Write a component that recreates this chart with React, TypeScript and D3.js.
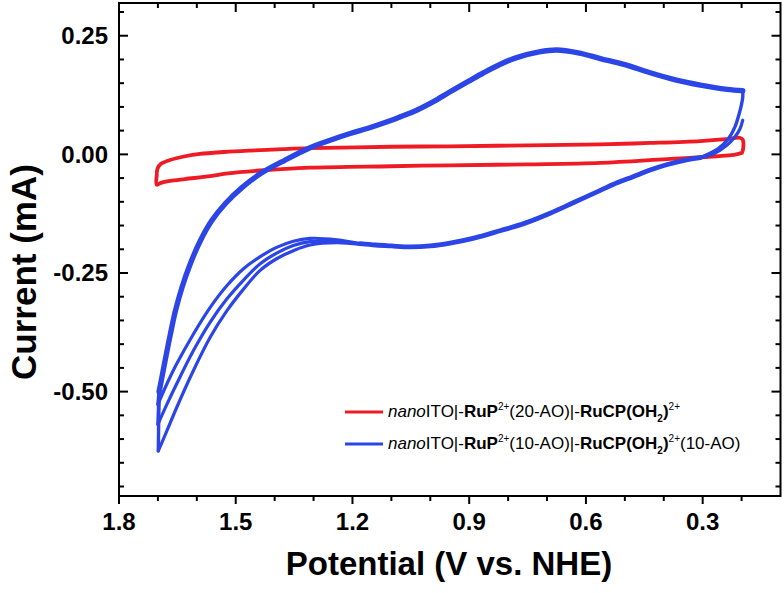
import React from "react";
import * as d3 from "d3";

type Pt = [number, number];

// ---- data (V vs NHE, mA) ----
const redUpper: Pt[] = [
  [1.703, -0.045], [1.701, -0.030], [1.692, -0.020], [1.669, -0.012], [1.63, -0.004],
  [1.592, 0.001], [1.53, 0.005], [1.463, 0.008], [1.38, 0.011], [1.309, 0.013],
  [1.1, 0.016], [0.949, 0.017], [0.75, 0.019], [0.563, 0.021], [0.435, 0.024],
  [0.306, 0.028], [0.24, 0.032], [0.205, 0.035], [0.197, 0.031], [0.196, 0.012], [0.199, 0.003],
];
const redLower: Pt[] = [
  [0.199, 0.003], [0.22, -0.001], [0.263, -0.004], [0.392, -0.010], [0.563, -0.018],
  [0.75, -0.021], [0.949, -0.023], [1.1, -0.025], [1.309, -0.028], [1.438, -0.034],
  [1.52, -0.040], [1.566, -0.046], [1.63, -0.052], [1.669, -0.056], [1.692, -0.060],
  [1.703, -0.064], [1.703, -0.045],
];

const blueStartTail: Pt[] = [
  [0.197, 0.072], [0.204, 0.054], [0.217, 0.037], [0.238, 0.019], [0.272, 0.001], [0.306, -0.007],
];
const blueTurn: Pt[] = [
  [0.197, 0.134], [0.197, 0.12], [0.2, 0.106], [0.206, 0.086], [0.217, 0.058],
  [0.234, 0.033], [0.26, 0.012], [0.306, -0.007],
];
const blueLowerCommon: Pt[] = [
  [0.306, -0.007], [0.35, -0.013], [0.393, -0.022], [0.435, -0.033], [0.479, -0.047],
  [0.52, -0.060], [0.563, -0.076], [0.63, -0.101], [0.692, -0.124], [0.76, -0.146],
  [0.821, -0.161], [0.885, -0.176], [0.949, -0.187], [1.0, -0.193], [1.052, -0.195],
  [1.1, -0.193], [1.14, -0.191], [1.18, -0.188],
];
const blueCycle1: Pt[] = [
  [1.18, -0.188], [1.24, -0.180], [1.309, -0.177], [1.352, -0.183], [1.395, -0.196],
  [1.438, -0.216], [1.48, -0.241], [1.523, -0.277], [1.566, -0.323], [1.609, -0.379],
  [1.652, -0.442], [1.677, -0.484], [1.7, -0.527],
];
const blueCycle2: Pt[] = [
  [1.18, -0.189], [1.24, -0.183], [1.309, -0.184], [1.352, -0.192], [1.395, -0.208],
  [1.438, -0.231], [1.48, -0.265], [1.523, -0.305], [1.566, -0.354], [1.609, -0.414],
  [1.652, -0.484], [1.677, -0.527], [1.7, -0.569],
];
const blueCycle3: Pt[] = [
  [1.18, -0.190], [1.24, -0.186], [1.309, -0.191], [1.352, -0.203], [1.395, -0.220],
  [1.438, -0.245], [1.48, -0.284], [1.523, -0.330], [1.566, -0.386], [1.609, -0.456],
  [1.652, -0.534], [1.677, -0.583], [1.699, -0.625],
];
const blueUpper: Pt[] = [
  [1.697, -0.50], [1.69, -0.471], [1.68, -0.428], [1.668, -0.379], [1.655, -0.330],
  [1.638, -0.280], [1.617, -0.231], [1.591, -0.182], [1.561, -0.139], [1.527, -0.104],
  [1.484, -0.070], [1.435, -0.040], [1.373, -0.012], [1.309, 0.014], [1.25, 0.032],
  [1.206, 0.044], [1.16, 0.055], [1.12, 0.066], [1.078, 0.079], [1.035, 0.093],
  [0.992, 0.111], [0.949, 0.132], [0.9, 0.155], [0.863, 0.172], [0.82, 0.190],
  [0.778, 0.204], [0.72, 0.216], [0.675, 0.220], [0.62, 0.214], [0.563, 0.202],
  [0.5, 0.189], [0.435, 0.172], [0.37, 0.157], [0.306, 0.146], [0.237, 0.137], [0.197, 0.134],
];

const xMajorTicks = [1.8, 1.5, 1.2, 0.9, 0.6, 0.3];
const xMinorTicks = [1.7, 1.6, 1.4, 1.3, 1.1, 1.0, 0.8, 0.7, 0.5, 0.4, 0.2];
const yMajorTicks = [0.25, 0, -0.25, -0.5];
const yMinorTicks = [0.3, 0.2, 0.15, 0.1, 0.05, -0.05, -0.1, -0.15, -0.2, -0.3, -0.35, -0.4, -0.45, -0.55, -0.6, -0.65, -0.7];

const RED = "#ee1b24";
const BLUE = "#2b45e6";
const FONT = "'Liberation Sans', Arial, Helvetica, sans-serif";

export default function App() {
  const W = 784, H = 593;
  const L = 119, R = 780.5, T = 3, B = 496;
  const x = d3.scaleLinear().domain([1.8, 0.1]).range([L, R]);
  const y = d3.scaleLinear().domain([0.319, -0.72]).range([T, B]);
  const line = d3
    .line<Pt>()
    .x((d) => x(d[0]))
    .y((d) => y(d[1]))
    .curve(d3.curveCatmullRom.alpha(0.5));
  const straight = d3.line<Pt>().x((d) => x(d[0])).y((d) => y(d[1]));

  const cycles = [blueCycle1, blueCycle2, blueCycle3];

  return (
    <svg width={W} height={H} style={{ position: "absolute", left: 0, top: 0, background: "#fff" }} fontFamily={FONT}>
      <rect x={0} y={0} width={W} height={H} fill="#fff" />
      <defs>
        <clipPath id="plot">
          <rect x={L} y={T} width={R - L} height={B - T} />
        </clipPath>
      </defs>
      <g clipPath="url(#plot)" fill="none" strokeLinecap="round" strokeLinejoin="round">
        <path d={line([...redUpper, ...redLower]) || ""} stroke={RED} strokeWidth={3.8} />
        <path d={line(blueStartTail) || ""} stroke={BLUE} strokeWidth={3.2} />
        <path d={line(blueTurn) || ""} stroke={BLUE} strokeWidth={3.4} />
        <path d={line(blueLowerCommon) || ""} stroke={BLUE} strokeWidth={4.8} />
        {cycles.map((c, i) => (
          <path key={"c" + i} d={line(c) || ""} stroke={BLUE} strokeWidth={3.2} />
        ))}
        {cycles.map((c, i) => (
          <path key={"v" + i} d={straight([c[c.length - 1], blueUpper[0]]) || ""} stroke={BLUE} strokeWidth={3.4} />
        ))}
        <path d={line(blueUpper) || ""} stroke={BLUE} strokeWidth={5.4} />
      </g>

      {/* frame */}
      <rect x={L} y={T} width={R - L} height={B - T} fill="none" stroke="#000" strokeWidth={2} />

      {/* ticks */}
      <g stroke="#000" strokeWidth={2}>
        {xMajorTicks.map((v) => (
          <g key={"xM" + v}>
            <line x1={x(v)} x2={x(v)} y1={B} y2={B + 8} />
            <line x1={x(v)} x2={x(v)} y1={T} y2={T + 9} />
          </g>
        ))}
        {xMinorTicks.map((v) => (
          <g key={"xm" + v}>
            <line x1={x(v)} x2={x(v)} y1={B} y2={B + 5} />
            <line x1={x(v)} x2={x(v)} y1={T} y2={T + 5} />
          </g>
        ))}
        {yMajorTicks.map((v) => (
          <g key={"yM" + v}>
            <line x1={L} x2={L + 9} y1={y(v)} y2={y(v)} />
            <line x1={R} x2={R - 9} y1={y(v)} y2={y(v)} />
          </g>
        ))}
        {yMinorTicks.map((v) => (
          <g key={"ym" + v}>
            <line x1={L} x2={L + 5} y1={y(v)} y2={y(v)} />
            <line x1={R} x2={R - 5} y1={y(v)} y2={y(v)} />
          </g>
        ))}
      </g>

      {/* tick labels */}
      <g fontWeight="bold" fontSize={24} fill="#000">
        {xMajorTicks.map((v) => (
          <text key={"xl" + v} x={x(v)} y={530} textAnchor="middle">
            {v.toFixed(1)}
          </text>
        ))}
        {yMajorTicks.map((v) => (
          <text key={"yl" + v} x={108} y={y(v) + 8.5} textAnchor="end">
            {v.toFixed(2)}
          </text>
        ))}
      </g>

      {/* axis titles */}
      <text x={449} y={575} textAnchor="middle" fontWeight="bold" fontSize={33}>
        Potential (V vs. NHE)
      </text>
      <text transform="translate(36,272) rotate(-90)" textAnchor="middle" fontWeight="bold" fontSize={35}>
        Current (mA)
      </text>

      {/* legend */}
      <g fontSize={17}>
        <line x1={345} x2={383} y1={412} y2={412} stroke={RED} strokeWidth={3} />
        <text x={388} y={417}>
          <tspan fontStyle="italic">nano</tspan>
          <tspan>ITO|-</tspan>
          <tspan fontWeight="bold">RuP</tspan>
          <tspan fontSize={10} dy={-7}>2+</tspan>
          <tspan dy={7}>(20-AO)|-</tspan>
          <tspan fontWeight="bold">RuCP(OH</tspan>
          <tspan fontWeight="bold" fontSize={10} dy={5}>2</tspan>
          <tspan fontWeight="bold" dy={-5}>)</tspan>
          <tspan fontSize={10} dy={-7}>2+</tspan>
        </text>
        <line x1={345} x2={383} y1={444} y2={444} stroke={BLUE} strokeWidth={3} />
        <text x={388} y={449}>
          <tspan fontStyle="italic">nano</tspan>
          <tspan>ITO|-</tspan>
          <tspan fontWeight="bold">RuP</tspan>
          <tspan fontSize={10} dy={-7}>2+</tspan>
          <tspan dy={7}>(10-AO)|-</tspan>
          <tspan fontWeight="bold">RuCP(OH</tspan>
          <tspan fontWeight="bold" fontSize={10} dy={5}>2</tspan>
          <tspan fontWeight="bold" dy={-5}>)</tspan>
          <tspan fontSize={10} dy={-7}>2+</tspan>
          <tspan dy={7}>(10-AO)</tspan>
        </text>
      </g>
    </svg>
  );
}
